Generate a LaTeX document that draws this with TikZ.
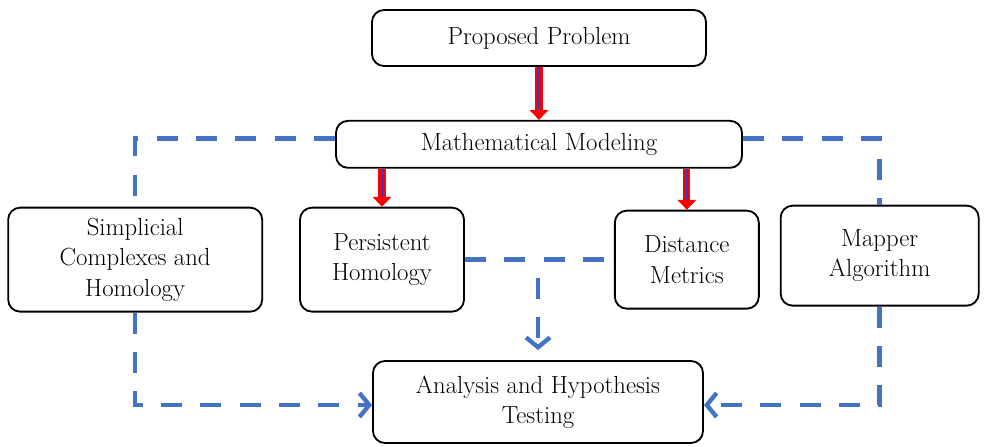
\documentclass[tikz,border=0pt]{standalone}
\usepackage{fontspec}
\usetikzlibrary{shapes,arrows,arrows.meta,positioning}
\definecolor{linkblue}{RGB}{68,114,196}

\tikzset{
  block/.style={draw, rectangle, rounded corners=0.3cm, line width=1.3pt, align=center,
    font=\fontsize{17.6}{21.5}\selectfont, inner sep=0pt},
  flow/.style={draw=red, line width=5pt, -{Triangle[length=7pt,width=13pt]}},
  flowcore/.style={draw=blue!55!gray, line width=1.5pt, shorten >=7pt},
  link/.style={draw=linkblue, line width=3.3pt, dash pattern=on 15pt off 13pt},
  linkarrow/.style={link, -{Straight Barb[length=7pt,width=17pt,line width=3.1pt]}}
}

\begin{document}
\begin{tikzpicture}
        \useasboundingbox (0,0) rectangle (24.625,-11.175);

        % Top of the chain
        \node[block, minimum width=8.35cm, minimum height=1.4cm] (problem) at (13.475,-0.95) {Proposed Problem};
        \node[block, minimum width=10.15cm, minimum height=1.175cm, below=1.325cm of problem] (modeling) {Mathematical Modeling};

        % Middle row
        \node[block, minimum width=4.1cm, minimum height=2.6cm, below=0.95cm of modeling, xshift=-3.925cm] (persistent) {Persistent\\Homology};
        \node[block, minimum width=6.35cm, minimum height=2.6cm, left=0.9cm of persistent] (simplicial) {Simplicial\\Complexes and\\Homology};
        \node[block, minimum width=3.6cm, minimum height=2.45cm, right=3.725cm of persistent] (distance) {Distance\\Metrics};
        \node[block, minimum width=4.95cm, minimum height=2.5cm, right=0.5cm of distance, yshift=0.1cm] (mapper) {Mapper\\Algorithm};

        % Bottom
        \node[block, minimum width=8.25cm, minimum height=2.05cm] (analysis) at (13.45,-10.05) {Analysis and Hypothesis\\Testing};

        % Red arrows
        \draw[flow] (problem.south) -- (modeling.north);
        \draw[flowcore] (problem.south) -- (modeling.north);
        \draw[flow] (persistent.north |- modeling.south) -- (persistent.north);
        \draw[flowcore] (persistent.north |- modeling.south) -- (persistent.north);
        \draw[flow] (distance.north |- modeling.south) -- (distance.north);
        \draw[flowcore] (distance.north |- modeling.south) -- (distance.north);

        % Dashed links
        \draw[link] ([yshift=0.15cm]modeling.west) -| (simplicial.north);
        \draw[link] ([yshift=0.15cm]modeling.east) -| (mapper.north);
        \draw[linkarrow] (simplicial.south) |- ([yshift=-0.075cm]analysis.west);
        \draw[linkarrow] (mapper.south) |- ([yshift=-0.075cm]analysis.east);
        \draw[link] (persistent.east) -- (distance.west);
        \coordinate (meet) at (analysis.north |- persistent.east);
        \draw[linkarrow, shorten <=0.45cm, shorten >=0.25cm] (meet) -- (analysis.north);
\end{tikzpicture}
\end{document}
